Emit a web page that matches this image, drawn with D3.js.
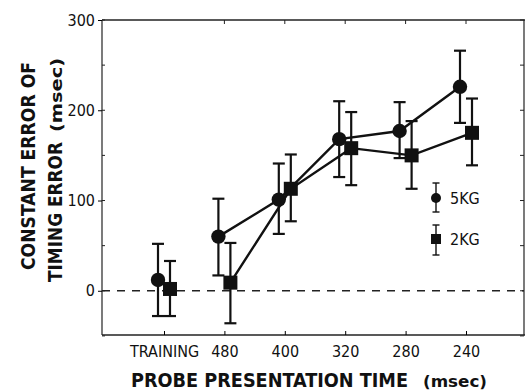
<!DOCTYPE html>
<html>
<head>
<meta charset="utf-8">
<script src="https://cdn.jsdelivr.net/npm/d3@7"></script>
<style>
  body { margin: 0; background: #fff; }
  svg { display: block; }
</style>
</head>
<body>
<svg id="chart"></svg>
<script>
// data
const categories = ["TRAINING", "480", "400", "320", "280", "240"];
const kg5Mean = [12, 60, 101, 168, 177, 226];
const kg5Hi = [52, 102, 141, 210, 209, 266];
const kg5Lo = [-28, 17, 63, 126, 147, 186];
const kg2Mean = [2, 9, 113, 158, 150, 175];
const kg2Hi = [33, 53, 151, 198, 188, 213];
const kg2Lo = [-28, -36, 77, 117, 113, 139];
const yTicks = [0, 100, 200, 300];
const yMinor = [-50, 50, 150, 250];

const W = 525, H = 392;
const svg = d3.select("#chart").attr("width", W).attr("height", H);

const x = d3.scalePoint().domain(categories).range([164, 466]);
const y = d3.scaleLinear().domain([-49, 300]).range([335, 20]);

const narrow = "'Liberation Sans Narrow', 'DejaVu Sans Condensed', 'Liberation Sans', sans-serif";

// frame
const left = 102, right = 524;
svg.append("line").attr("x1", left).attr("x2", left).attr("y1", y(300)).attr("y2", y(-49))
    .attr("stroke", "#222").attr("stroke-width", 1.2);
svg.append("line").attr("x1", left).attr("x2", right + 2).attr("y1", y(300)).attr("y2", y(300))
    .attr("stroke", "#222").attr("stroke-width", 1.5);
svg.append("line").attr("x1", left).attr("x2", right + 2).attr("y1", y(-49)).attr("y2", y(-49))
    .attr("stroke", "#222").attr("stroke-width", 1.5);
svg.append("line").attr("x1", right).attr("x2", right).attr("y1", y(300)).attr("y2", y(-49))
    .attr("stroke", "#222").attr("stroke-width", 1.2);

// y axis
const yAxis = d3.axisLeft(y).tickValues(yTicks).tickSize(4).tickPadding(3);
const gy = svg.append("g").attr("transform", `translate(${left},0)`).call(yAxis);
gy.select(".domain").remove();
gy.selectAll("text").attr("font-family", narrow).attr("font-size", 16).attr("fill", "#111");
svg.append("g").selectAll("line").data(yMinor.concat(yTicks)).join("line")
    .attr("x1", left).attr("x2", left + 3)
    .attr("y1", d => y(d)).attr("y2", d => y(d)).attr("stroke", "#222");
svg.append("g").selectAll("line").data(yMinor.concat(yTicks)).join("line")
    .attr("x1", right).attr("x2", right - 4)
    .attr("y1", d => y(d)).attr("y2", d => y(d)).attr("stroke", "#222");

// x axis
const xAxis = d3.axisBottom(x).tickSize(-4).tickPadding(11);
const gx = svg.append("g").attr("transform", `translate(0,${y(-49)})`).call(xAxis);
gx.select(".domain").remove();
gx.selectAll("text").attr("font-family", narrow).attr("font-size", 16).attr("fill", "#111");
svg.append("g").selectAll("line").data(categories.slice(1)).join("line")
    .attr("x1", d => x(d)).attr("x2", d => x(d))
    .attr("y1", y(300)).attr("y2", y(300) + 4).attr("stroke", "#222");

// zero reference line
svg.append("line").attr("x1", left).attr("x2", right).attr("y1", y(0)).attr("y2", y(0))
    .attr("stroke", "#222").attr("stroke-width", 1.3).attr("stroke-dasharray", "8,7");

// series
const series = [
  { mean: kg5Mean, hi: kg5Hi, lo: kg5Lo, dx: -6, shape: "circle" },
  { mean: kg2Mean, hi: kg2Hi, lo: kg2Lo, dx: 6, shape: "square" }
];

series.forEach(s => {
  const g = svg.append("g");
  const pts = categories.map((c, i) => ({ x: x(c) + s.dx, m: s.mean[i], hi: s.hi[i], lo: s.lo[i] }));
  g.append("path")
    .attr("d", d3.line().x(d => d.x).y(d => y(d.m))(pts.slice(1)))
    .attr("fill", "none").attr("stroke", "#111").attr("stroke-width", 2.4);
  const eb = g.selectAll(".eb").data(pts).join("g");
  eb.append("line").attr("x1", d => d.x).attr("x2", d => d.x)
    .attr("y1", d => y(d.hi)).attr("y2", d => y(d.lo))
    .attr("stroke", "#111").attr("stroke-width", 2.2);
  eb.append("line").attr("x1", d => d.x - 6).attr("x2", d => d.x + 6)
    .attr("y1", d => y(d.hi)).attr("y2", d => y(d.hi))
    .attr("stroke", "#111").attr("stroke-width", 2.2);
  eb.append("line").attr("x1", d => d.x - 6).attr("x2", d => d.x + 6)
    .attr("y1", d => y(d.lo)).attr("y2", d => y(d.lo))
    .attr("stroke", "#111").attr("stroke-width", 2.2);
  if (s.shape === "circle") {
    g.selectAll("circle").data(pts).join("circle")
      .attr("cx", d => d.x).attr("cy", d => y(d.m)).attr("r", 7.2).attr("fill", "#111");
  } else {
    g.selectAll("rect").data(pts).join("rect")
      .attr("x", d => d.x - 7).attr("y", d => y(d.m) - 7)
      .attr("width", 14).attr("height", 14).attr("fill", "#111");
  }
});

// legend
const legend = svg.append("g").attr("transform", "translate(436,0)");
const legItems = [
  { label: "5KG", cy: 198, top: 183, bot: 212, shape: "circle" },
  { label: "2KG", cy: 239, top: 225, bot: 255, shape: "square" }
];
legItems.forEach(d => {
  legend.append("line").attr("x1", 0).attr("x2", 0).attr("y1", d.top).attr("y2", d.bot)
    .attr("stroke", "#111").attr("stroke-width", 1.4);
  legend.append("line").attr("x1", -3.5).attr("x2", 3.5).attr("y1", d.top).attr("y2", d.top)
    .attr("stroke", "#111").attr("stroke-width", 1.4);
  legend.append("line").attr("x1", -3.5).attr("x2", 3.5).attr("y1", d.bot).attr("y2", d.bot)
    .attr("stroke", "#111").attr("stroke-width", 1.4);
  if (d.shape === "circle") {
    legend.append("circle").attr("cx", 0).attr("cy", d.cy).attr("r", 5).attr("fill", "#111");
  } else {
    legend.append("rect").attr("x", -5).attr("y", d.cy - 5).attr("width", 10).attr("height", 10).attr("fill", "#111");
  }
  legend.append("text").attr("x", 14).attr("y", d.cy).attr("dy", "0.35em")
    .attr("font-family", narrow).attr("font-size", 16).attr("fill", "#111").text(d.label);
});

// axis titles, stretched to the widths seen in the figure
function title(parent, str, x0, yb, size, len) {
  return parent.append("text").attr("x", x0).attr("y", yb)
    .attr("font-family", narrow).attr("font-weight", "bold").attr("font-size", size)
    .attr("fill", "#111").attr("textLength", len).attr("lengthAdjust", "spacingAndGlyphs")
    .text(str);
}
title(svg, "PROBE PRESENTATION TIME", 131, 387, 20, 277);
title(svg, "(msec)", 423, 387, 16, 64);

const yt = svg.append("g").attr("transform", "rotate(-90)");
title(yt, "CONSTANT ERROR OF", -270, 35, 20, 208);
title(yt, "TIMING ERROR", -282, 62, 20, 140);
title(yt, "(msec)", -132, 62, 16, 74);
</script>
</body>
</html>
